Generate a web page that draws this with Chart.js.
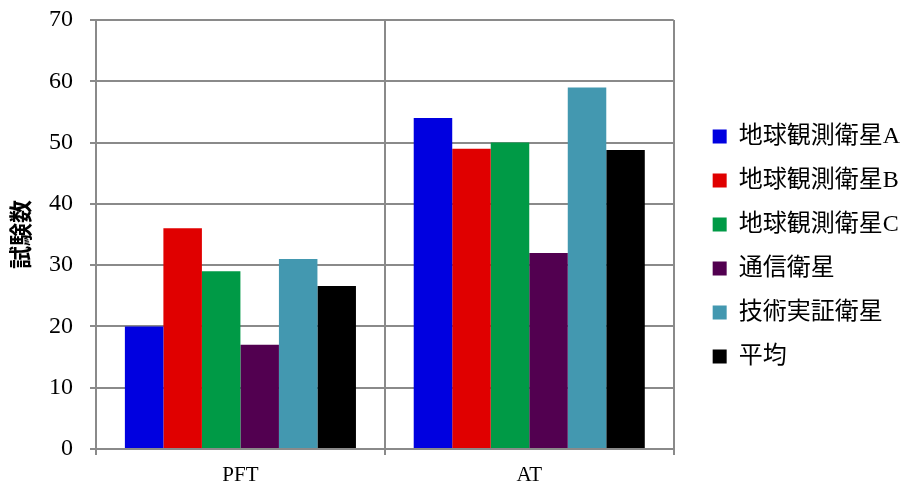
<!DOCTYPE html>
<html>
<head>
<meta charset="utf-8">
<script src="https://cdn.jsdelivr.net/npm/chart.js@4/dist/chart.umd.min.js"></script>
<style>
  html, body { margin: 0; padding: 0; background: #fff; }
  #wrap { width: 913px; height: 486px; }
</style>
</head>
<body>
<div id="wrap"><canvas id="c" width="913" height="486"></canvas></div>
<script>
// 試験区分
const categories = ['PFT', 'AT'];

// 衛星区分ごとの試験数
const earthObsA = [20, 54];
const earthObsB = [36, 49];
const earthObsC = [29, 50];
const commSat   = [17, 32];
const techDemo  = [31, 59];
const average   = [26.6, 48.8];

const seriesNames = ['地球観測衛星A', '地球観測衛星B', '地球観測衛星C', '通信衛星', '技術実証衛星', '平均'];
const seriesColors = ['#0000e0', '#e00000', '#009a46', '#520050', '#4398b0', '#000000'];
const seriesValues = [earthObsA, earthObsB, earthObsC, commSat, techDemo, average];

const yTitle = '試験数';

const serif = "'Liberation Serif', 'Times New Roman', 'Noto Sans CJK JP', serif";
const gridGray = '#8a8a8a';

new Chart(document.getElementById('c'), {
  type: 'bar',
  data: {
    labels: categories,
    datasets: seriesNames.map((name, i) => ({
      label: name,
      data: seriesValues[i],
      backgroundColor: seriesColors[i],
      borderWidth: 0,
      barPercentage: 1.0,
      categoryPercentage: 0.8
    }))
  },
  options: {
    responsive: false,
    animation: false,
    devicePixelRatio: 1,
    layout: { padding: { top: 7, left: 6, right: 3, bottom: 0 } },
    plugins: {
      tooltip: { enabled: false },
      legend: {
        position: 'right',
        align: 'center',
        labels: {
          color: '#000',
          font: { family: serif, size: 24 },
          boxWidth: 14,
          boxHeight: 14,
          padding: 20
        }
      }
    },
    scales: {
      x: {
        grid: {
          offset: true,
          color: gridGray,
          lineWidth: 2,
          drawTicks: true,
          tickLength: 6
        },
        border: { color: gridGray, width: 2 },
        ticks: {
          color: '#000',
          font: { family: serif, size: 21 },
          padding: 8
        },
        afterFit: (s) => { s.height = 37; }
      },
      y: {
        min: 0,
        max: 70,
        ticks: {
          stepSize: 10,
          color: '#000',
          // small line height sets how far the top label reserves space above the plot
          font: { family: serif, size: 24, lineHeight: 0.25 },
          padding: 17
        },
        grid: {
          color: gridGray,
          lineWidth: 2,
          tickLength: 6
        },
        border: { color: gridGray, width: 2 },
        title: {
          display: true,
          text: yTitle,
          color: '#000',
          font: { family: "'Noto Sans CJK JP', sans-serif", size: 23, weight: 'bold' },
          padding: { top: 0, bottom: 0 }
        },
        afterFit: (s) => { s.width = 90; }
      },
      // hidden axis that keeps a gap between the plot and the legend
      gap: {
        type: 'linear',
        axis: 'y',
        position: 'right',
        display: false,
        afterFit: (s) => { s.width = 19; }
      }
    }
  }
});
</script>
</body>
</html>
